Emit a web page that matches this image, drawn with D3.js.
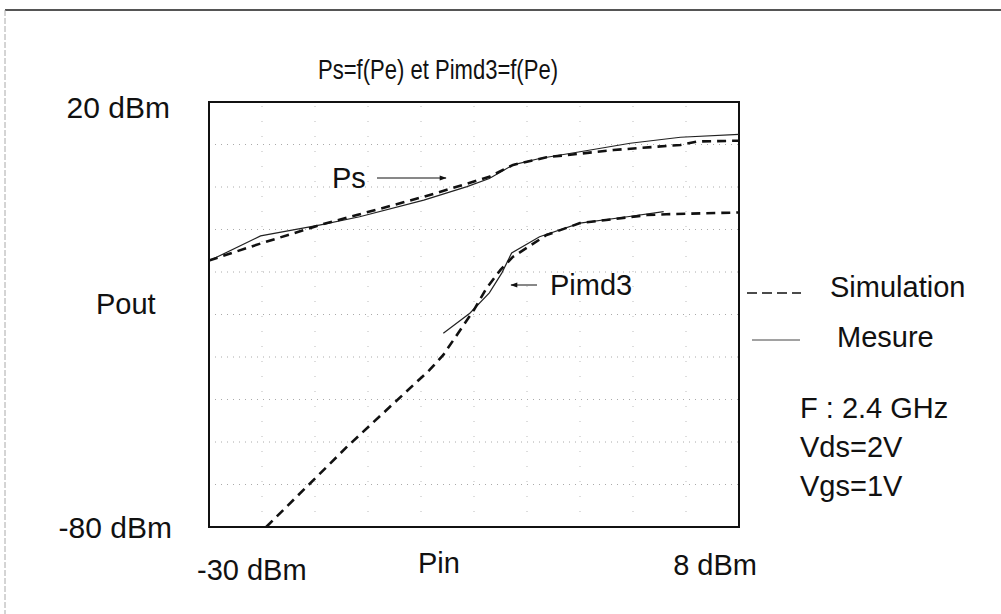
<!DOCTYPE html>
<html>
<head>
<meta charset="utf-8">
<script src="https://cdn.jsdelivr.net/npm/d3@7"></script>
<style>
  body { margin: 0; background: white; }
  text { font-family: "Liberation Sans", Arial, sans-serif; fill: #111; font-size: 29px; }
</style>
</head>
<body>
<svg id="chart" width="1001" height="614"></svg>
<script>
// Ps = f(Pe), measured (solid) and simulated (dashed)
var psMesX = [-30, -29.5, -26.3, -22.0, -19.2, -14.6, -11.5, -9.9, -8.2, -6.3, -3.4, 0.2, 3.8, 8];
var psMesY = [-17.3, -16.6, -11.5, -8.9, -7.0, -3.1, 0.1, 2.0, 5.2, 6.7, 8.3, 10.3, 11.7, 12.4];
var psSimX = [-30, -26.3, -22.0, -19.4, -14.6, -9.9, -8.2, -5.8, -1.0, 3.8, 5.0, 8];
var psSimY = [-17.3, -13.3, -8.9, -6.6, -2.3, 2.4, 5.2, 7.0, 8.7, 9.9, 10.7, 10.9];
// Pimd3 = f(Pe)
var imSimX = [-25.9, -20.1, -14.2, -13.2, -11.0, -10.1, -9.1, -8.2, -5.8, -3.4, 1.4, 2.8, 8];
var imSimY = [-80, -61.1, -43.1, -39.5, -28.9, -23.8, -19.5, -16.4, -11.3, -8.5, -6.6, -6.4, -6.0];
var imMesX = [-13.2, -11.3, -9.9, -9.0, -8.3, -6.3, -3.4, 0.0, 2.6];
var imMesY = [-34.4, -29.7, -24.9, -20.2, -15.5, -11.7, -8.5, -7.0, -5.8];

var xDomain = [-30, 8];
var yDomain = [-80, 20];
var xGrid = [-26.2, -22.4, -18.6, -14.8, -11, -7.2, -3.4, 0.4, 4.2];
var yGrid = [10, 0, -10, -20, -30, -40, -50, -60, -70];
var yTickLabels = ["20 dBm", "-80 dBm"];
var xTickLabels = ["-30 dBm", "8 dBm"];
var legendLabels = ["Simulation", "Mesure"];
var notes = ["F : 2.4 GHz", "Vds=2V", "Vgs=1V"];

var svg = d3.select('#chart');
var x = d3.scaleLinear().domain(xDomain).range([209, 739]);
var y = d3.scaleLinear().domain(yDomain).range([527, 102]);

// outer border of the page
svg.append('line').attr('x1', 5).attr('x2', 1001).attr('y1', 10).attr('y2', 10)
  .style('stroke', '#555').style('stroke-width', 2);
svg.append('line').attr('x1', 5).attr('x2', 5).attr('y1', 10).attr('y2', 614)
  .style('stroke', '#aaa').style('stroke-width', 1).attr('stroke-dasharray', '6 2');

svg.append('text').attr('x', 438).attr('y', 79).attr('text-anchor', 'middle')
  .attr('textLength', 240).attr('lengthAdjust', 'spacingAndGlyphs')
  .style('font-size', '28px').text('Ps=f(Pe) et Pimd3=f(Pe)');

// faint dotted grid
svg.selectAll('.hgrid').data(yGrid).enter().append('line')
  .attr('class', 'hgrid')
  .attr('x1', x(xDomain[0])).attr('x2', x(xDomain[1]))
  .attr('y1', function(d){ return y(d) }).attr('y2', function(d){ return y(d) })
  .style('stroke', '#aaa').style('stroke-width', 1).attr('stroke-dasharray', '1 5');
svg.selectAll('.vgrid').data(xGrid).enter().append('line')
  .attr('class', 'vgrid')
  .attr('y1', y(yDomain[0])).attr('y2', y(yDomain[1]))
  .attr('x1', function(d){ return x(d) }).attr('x2', function(d){ return x(d) })
  .style('stroke', '#bbb').style('stroke-width', 1).attr('stroke-dasharray', '1 14');

// frame
svg.append('rect').attr('x', x(xDomain[0])).attr('y', y(yDomain[1]))
  .attr('width', x(xDomain[1]) - x(xDomain[0])).attr('height', y(yDomain[0]) - y(yDomain[1]))
  .style('fill', 'none').style('stroke', '#111').style('stroke-width', 2);

var line = d3.line().x(function(d){ return x(d[0]) }).y(function(d){ return y(d[1]) });
function pts(xs, ys){ return xs.map(function(v, i){ return [v, ys[i]] }) }

svg.append('path').attr('d', line(pts(psMesX, psMesY)))
  .style('fill', 'none').style('stroke', '#222').style('stroke-width', 1.2);
svg.append('path').attr('d', line(pts(imMesX, imMesY)))
  .style('fill', 'none').style('stroke', '#222').style('stroke-width', 1.2);
svg.append('path').attr('d', line(pts(psSimX, psSimY)))
  .style('fill', 'none').style('stroke', '#111').style('stroke-width', 2.6).attr('stroke-dasharray', '9 6');
svg.append('path').attr('d', line(pts(imSimX, imSimY)))
  .style('fill', 'none').style('stroke', '#111').style('stroke-width', 2.6).attr('stroke-dasharray', '9 6');

// axis labels
svg.append('text').attr('x', 170).attr('y', y(yDomain[1]) + 16).attr('text-anchor', 'end')
  .style('font-size', '30px').text(yTickLabels[0]);
svg.append('text').attr('x', 172).attr('y', y(yDomain[0]) + 11).attr('text-anchor', 'end')
  .style('font-size', '30px').text(yTickLabels[1]);
svg.append('text').attr('x', 96).attr('y', 314).text('Pout');
svg.append('text').attr('x', x(xDomain[0]) - 12).attr('y', 580).text(xTickLabels[0]);
svg.append('text').attr('x', x(xDomain[1]) + 18).attr('y', 575).attr('text-anchor', 'end').text(xTickLabels[1]);
svg.append('text').attr('x', 418).attr('y', 573).text('Pin');

// annotations with arrows
svg.append('defs').append('marker').attr('id', 'arr')
  .attr('viewBox', '0 0 10 10').attr('refX', 9).attr('refY', 5)
  .attr('markerWidth', 9).attr('markerHeight', 7).attr('orient', 'auto')
  .append('path').attr('d', 'M0,1.5L10,5L0,8.5Z').style('fill', '#111');
svg.append('text').attr('x', 332).attr('y', 188).text('Ps');
svg.append('line').attr('x1', 377).attr('x2', 446).attr('y1', 178).attr('y2', 178)
  .style('stroke', '#111').style('stroke-width', 1).attr('marker-end', 'url(#arr)');
svg.append('text').attr('x', 550).attr('y', 295).text('Pimd3');
svg.append('line').attr('x1', 537).attr('x2', 511).attr('y1', 285).attr('y2', 285)
  .style('stroke', '#111').style('stroke-width', 1).attr('marker-end', 'url(#arr)');

// legend
svg.append('line').attr('x1', 747).attr('x2', 801).attr('y1', 293).attr('y2', 293)
  .style('stroke', '#111').style('stroke-width', 1.6).attr('stroke-dasharray', '10 5');
svg.append('text').attr('x', 830).attr('y', 297).text(legendLabels[0]);
svg.append('line').attr('x1', 752).attr('x2', 800).attr('y1', 340).attr('y2', 340)
  .style('stroke', '#444').style('stroke-width', 1);
svg.append('text').attr('x', 837).attr('y', 347).text(legendLabels[1]);
svg.selectAll('.note').data(notes).enter().append('text')
  .attr('class', 'note')
  .attr('x', 800).attr('y', function(d, i){ return 418 + i * 39 })
  .text(function(d){ return d });
</script>
</body>
</html>
